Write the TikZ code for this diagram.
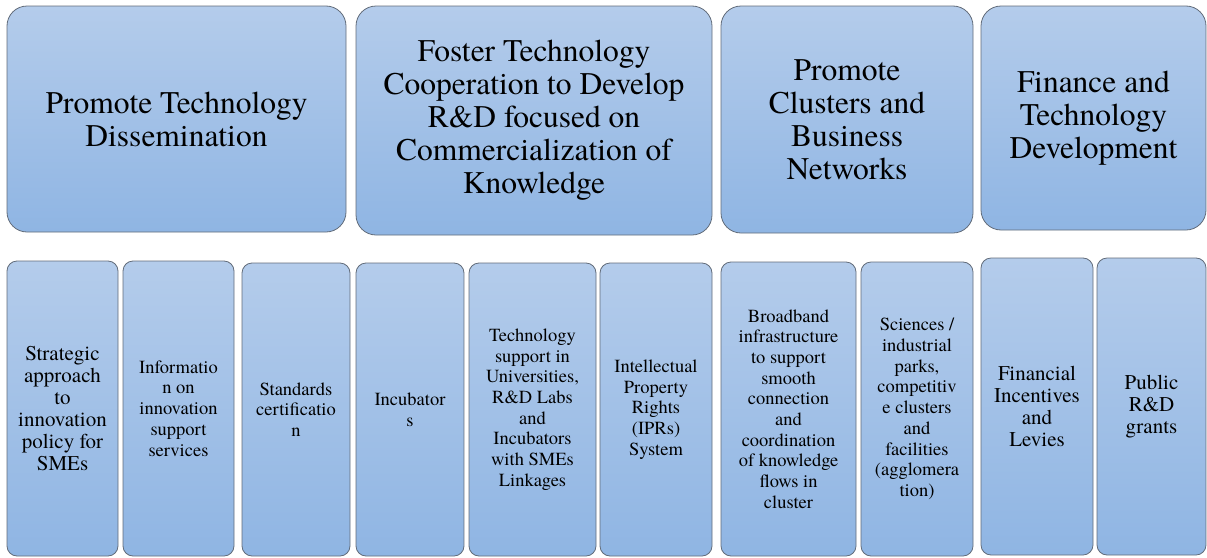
\documentclass[tikz,border=0pt]{standalone}
\usepackage{fontspec}
\setmainfont{texgyretermes}[Extension=.otf, UprightFont=*-regular,
    BoldFont=*-bold, ItalicFont=*-italic, BoldItalicFont=*-bolditalic]
\definecolor{boxtop}{RGB}{180,204,235}
\definecolor{boxbot}{RGB}{143,181,227}
\definecolor{boxline}{RGB}{98,108,122}

\begin{document}
\begin{tikzpicture}[x=1pt, y=-1pt,
    topbox/.style={draw=boxline, line width=0.8pt, rounded corners=20pt,
        top color=boxtop, bottom color=boxbot, align=center, inner sep=2pt,
        font=\fontsize{31.5}{33}\selectfont},
    botbox/.style={draw=boxline, line width=0.8pt, rounded corners=10pt,
        top color=boxtop, bottom color=boxbot, align=center, inner sep=1pt,
        font=\fontsize{18.5}{20.7}\selectfont},
    bigtext/.style={font=\fontsize{21}{22}\selectfont}]

        \useasboundingbox (0, 0) rectangle (1207, 557);

        % upper row
        \node[topbox, minimum width=339, minimum height=226] (dissem) at (176.5, 119)
            {Promote Technology\\Dissemination};
        \node[topbox, minimum width=356, minimum height=229] (coop) at (534, 120.5)
            {Foster Technology\\Cooperation to Develop\\R\&D focused on\\Commercialization of\\Knowledge};
        \node[topbox, minimum width=252, minimum height=227] (clusters) at (847, 119.5)
            {Promote\\Clusters and\\Business\\Networks};
        \node[topbox, minimum width=225, minimum height=224] (finance) at (1093.5, 118)
            {Finance and\\Technology\\Development};

        % lower row
        \node[botbox, bigtext, minimum width=111, minimum height=295] (strat) at (62.5, 408.5)
            {Strategic\\approach\\to\\innovation\\policy for\\SMEs};
        \node[botbox, minimum width=111, minimum height=295] (info) at (178.5, 408.5)
            {Informatio\\n on\\innovation\\support\\services};
        \node[botbox, minimum width=108, minimum height=293] (stand) at (296, 409.5)
            {Standards\\certificatio\\n};
        \node[botbox, minimum width=108, minimum height=293] (incub) at (410, 409.5)
            {Incubator\\s};
        \node[botbox, minimum width=127, minimum height=293] (univ) at (532.5, 409.5)
            {Technology\\support in\\Universities,\\R\&D Labs\\and\\Incubators\\with SMEs\\Linkages};
        \node[botbox, minimum width=112, minimum height=293] (ipr) at (656, 409.5)
            {Intellectual\\Property\\Rights\\(IPRs)\\System};
        \node[botbox, minimum width=135, minimum height=294] (broad) at (788.5, 409)
            {Broadband\\infrastructure\\to support\\smooth\\connection\\and\\coordination\\of knowledge\\flows in\\cluster};
        \node[botbox, minimum width=112, minimum height=294] (parks) at (917, 409)
            {Sciences /\\industrial\\parks,\\competitiv\\e clusters\\and\\facilities\\(agglomera\\tion)};
        \node[botbox, bigtext, minimum width=112, minimum height=297] (incent) at (1037, 406.5)
            {Financial\\Incentives\\and\\Levies};
        \node[botbox, bigtext, minimum width=109, minimum height=297] (grants) at (1151.5, 406.5)
            {Public\\R\&D\\grants};

    \end{tikzpicture}
\end{document}
